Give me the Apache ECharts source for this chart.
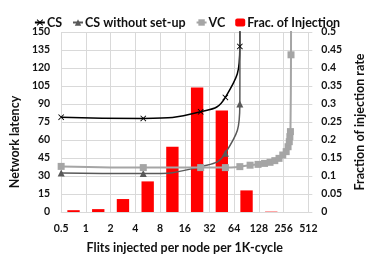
<!DOCTYPE html>
<html><head><meta charset="utf-8">
<script src="https://cdn.jsdelivr.net/npm/echarts@6/dist/echarts.min.js"></script>
<style>html,body{margin:0;padding:0;background:#fff}#c{width:374px;height:261px}</style>
</head><body><div id="c"></div>
<script>
const xTicks = [0.5, 1, 2, 4, 8, 16, 32, 64, 128, 256, 512];
const barCats = ['0.5-1','1-2','2-4','4-8','8-16','16-32','32-64','64-128','128-256','256-512'];
const fracInjection = [0.005, 0.008, 0.036, 0.085, 0.181, 0.346, 0.282, 0.060, 0.001, 0];
const csX = [0.5, 5, 25, 50, 75, 76];
const csY = [79, 78, 83.5, 95.5, 138, 300];
const csNoSetupX = [0.5, 5, 25, 50, 75, 76];
const csNoSetupY = [32.5, 32, 37.8, 49, 90, 300];
const vcX = [0.5, 5, 25, 50, 75, 100, 125, 150, 175, 200, 225, 250, 275, 290, 300, 305, 310, 315, 316];
const vcY = [38, 37, 37, 37, 37.8, 39, 39.7, 40.5, 41.4, 42.8, 44.7, 47.5, 50.3, 54.4, 58.6, 62.8, 67, 131, 300];

const pairs = (xs, ys) => xs.map((x, i) => [x, ys[i]]);
const font = 'Lato, "Open Sans", sans-serif';
const crossPath = 'path://M0,1L1,0L5,4L9,0L10,1L6,5L10,9L9,10L5,6L1,10L0,9L4,5Z';

const chart = echarts.init(document.getElementById('c'), null, {renderer: 'canvas'});
chart.setOption({
  animation: false,
  textStyle: {fontFamily: font},
  legend: {
    top: 11, left: 'center',
    itemWidth: 10, itemHeight: 8, itemGap: 10,
    textStyle: {fontFamily: font, fontWeight: 'bold', fontSize: 12.5, color: '#111', padding: [0,0,0,-3]},
    data: ['CS', 'CS without set-up', 'VC', 'Frac. of Injection']
  },
  grid: {left: 57, right: 61, top: 32, bottom: 49, containLabel: false},
  xAxis: [{
    type: 'log', logBase: 2, min: 0.5, max: 512, interval: 1,
    name: 'Flits injected per node per 1K-cycle', nameLocation: 'middle', nameGap: 29,
    nameTextStyle: {fontFamily: font, fontWeight: 'bold', fontSize: 12.5, color: '#111'},
    axisLine: {show: true, lineStyle: {color: '#D9D9D9'}},
    axisTick: {show: false},
    axisLabel: {fontFamily: font, fontWeight: 'bold', fontSize: 10.5, color: '#111', margin: 11,
      formatter: v => String(+Number(v).toPrecision(6))},
    splitLine: {show: true, lineStyle: {color: '#D9D9D9'}},
    minorTick: {show: false}
  }, {
    type: 'category', data: barCats, boundaryGap: true, show: false,
    axisLine: {show: false}, splitLine: {show: false}
  }],
  yAxis: [{
    type: 'value', min: 0, max: 150, interval: 15,
    name: 'Network latency', nameLocation: 'middle', nameGap: 36, nameRotate: 90,
    nameTextStyle: {fontFamily: font, fontWeight: 'bold', fontSize: 12.5, color: '#111', padding: [0, 40, 0, 0]},
    axisLine: {show: false}, axisTick: {show: false},
    axisLabel: {fontFamily: font, fontWeight: 'bold', fontSize: 10.5, color: '#111', margin: 11},
    splitLine: {show: true, lineStyle: {color: '#D9D9D9'}}
  }, {
    type: 'value', min: 0, max: 0.5, interval: 0.05, position: 'right',
    name: 'Fraction of injection rate', nameLocation: 'middle', nameGap: 40, nameRotate: 90,
    nameTextStyle: {fontFamily: font, fontWeight: 'bold', fontSize: 12.5, color: '#111'},
    axisLine: {show: false},
    axisTick: {show: true, length: 4, lineStyle: {color: '#D9D9D9'}},
    axisLabel: {fontFamily: font, fontWeight: 'bold', fontSize: 10.5, color: '#111', margin: 13},
    splitLine: {show: false}
  }],
  series: [{
    name: 'Frac. of Injection', type: 'bar', xAxisIndex: 1, yAxisIndex: 1,
    data: fracInjection, barWidth: '50%', itemStyle: {color: '#FF0000'}, z: 1
  }, {
    name: 'CS', type: 'line', xAxisIndex: 0, yAxisIndex: 0,
    data: pairs(csX, csY), smooth: 0.5,
    symbol: crossPath, symbolSize: 6, showAllSymbol: true,
    lineStyle: {color: '#000', width: 1.5}, itemStyle: {color: '#000'}, z: 3
  }, {
    name: 'CS without set-up', type: 'line', xAxisIndex: 0, yAxisIndex: 0,
    data: pairs(csNoSetupX, csNoSetupY), smooth: 0.5,
    symbol: 'triangle', symbolSize: 7, showAllSymbol: true,
    lineStyle: {color: '#595959', width: 1.5}, itemStyle: {color: '#595959'}, z: 3
  }, {
    name: 'VC', type: 'line', xAxisIndex: 0, yAxisIndex: 0,
    data: pairs(vcX, vcY), smooth: 0.3,
    symbol: 'rect', symbolSize: 7, showAllSymbol: true,
    lineStyle: {color: '#A5A5A5', width: 2}, itemStyle: {color: '#A5A5A5'}, z: 4
  }]
});
</script></body></html>
